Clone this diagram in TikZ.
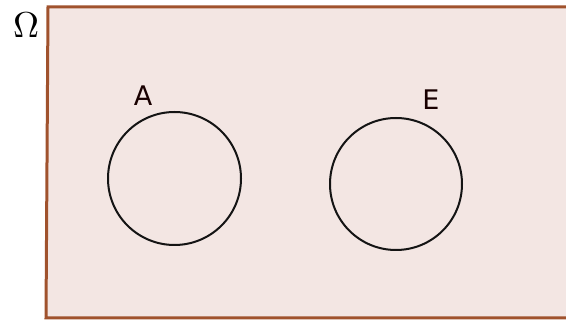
\documentclass[tikz,border=0pt]{standalone}
\usepackage{fontspec}
\newfontfamily\labfont{DejaVu Sans}
\definecolor{boxfill}{HTML}{F3E6E3}
\definecolor{boxline}{HTML}{A0522D}
\definecolor{circline}{HTML}{141414}
\begin{document}
\begin{tikzpicture}[x=1pt,y=-1pt,
  setcircle/.style={draw=circline,line width=2pt,circle,minimum size=#1,inner sep=0pt},
  setlabel/.style={font=\labfont\fontsize{27}{30}\selectfont,text=black!90!red,inner sep=0pt}]
\useasboundingbox (0,0) rectangle (566,320);
\begin{scope}
\clip (0,0) rectangle (566,320);
\draw[fill=boxfill,draw=boxline,line width=3pt] (48,7) -- (575,7) -- (575,318) -- (46,318) -- cycle;
\end{scope}
\node[inner sep=0pt] (omega) at (26,25) {\scalebox{3.6}{$\Omega$}};
\node[setcircle=133pt] (A) at (174.5,178.5) {};
\node[setcircle=132pt] (E) at (396,184) {};
\node[setlabel] (la) at (143,96) {A};
\node[setlabel] (le) at (431,100) {E};
\end{tikzpicture}
\end{document}
